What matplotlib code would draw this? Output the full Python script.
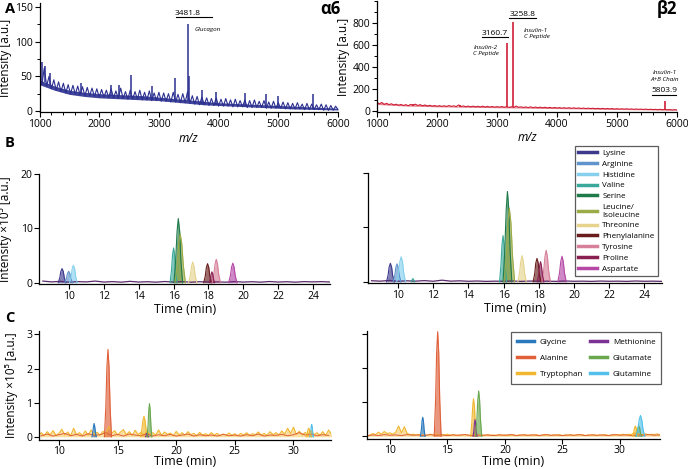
import numpy as np
import matplotlib
matplotlib.use('Agg')
import matplotlib.pyplot as plt
from matplotlib.ticker import MultipleLocator
from matplotlib.lines import Line2D

plt.rcParams['font.family'] = ['Open Sans', 'DejaVu Sans']

# ---------------- Panel A: MALDI spectra ----------------
mz_a6 = np.arange(1000, 6001, 40)
int_a6 = [55, 38, 62, 36, 50, 32, 45, 30, 42, 28,
          40, 26, 38, 25, 37, 24, 36, 23, 35, 22,
          34, 22, 33, 21, 32, 20, 31, 20, 30, 19,
          32, 19, 29, 18, 33, 18, 28, 17, 30, 17,
          28, 17, 30, 16, 27, 16, 29, 15, 26, 15,
          27, 14, 26, 14, 25, 13, 27, 13, 24, 12,
          25, 12, 28, 11, 22, 10, 21, 9, 20, 9,
          19, 8, 18, 8, 19, 7, 17, 7, 18, 7,
          16, 6, 17, 6, 15, 6, 16, 5, 15, 5,
          16, 5, 14, 5, 15, 4, 13, 4, 14, 4,
          12, 4, 13, 3, 12, 3, 11, 3, 12, 3,
          10, 2, 11, 2, 10, 2, 9, 2, 10, 1,
          9, 1, 8, 1, 7, 2]
band_mz = np.arange(1000, 6001, 250)
band_lo_a6 = [38, 30, 24, 21, 19, 18, 17, 16, 15, 13, 11, 9, 8, 7, 6, 5, 4, 3, 2.5, 2, 1.5]
band_hi_a6 = [45, 36, 30, 27, 25, 24, 23, 22, 20, 18, 16, 14, 12, 11, 10, 9, 8, 7, 6, 5, 4]
spike_mz_a6 = [1040, 1100, 1180, 1700, 2200, 2330, 2530, 2880, 3270, 3481.8, 3500,
               3730, 3950, 4450, 4800, 5000, 5580]
spike_int_a6 = [70, 65, 55, 40, 38, 38, 52, 36, 48, 126, 50, 30, 27, 26, 25, 22, 25]
spike_base_a6 = [45, 42, 38, 25, 22, 21, 20, 18, 16, 15, 15, 10, 9, 7, 5, 5, 3]

mz_b2 = np.arange(1000, 6001, 40)
int_b2 = [80, 65, 78, 60, 70, 58, 66, 55, 62, 52,
          60, 50, 58, 48, 60, 52, 62, 50, 58, 47,
          55, 45, 52, 44, 50, 43, 49, 42, 48, 41,
          50, 42, 47, 40, 55, 41, 46, 39, 45, 38,
          44, 38, 43, 37, 44, 36, 42, 36, 41, 35,
          40, 35, 41, 34, 40, 33, 39, 33, 45, 34,
          38, 32, 37, 31, 38, 30, 36, 30, 35, 29,
          34, 28, 33, 27, 32, 27, 31, 26, 30, 25,
          30, 24, 29, 24, 28, 23, 27, 22, 26, 22,
          25, 21, 24, 20, 24, 19, 23, 19, 22, 18,
          21, 17, 20, 17, 20, 16, 19, 15, 18, 15,
          17, 14, 17, 13, 16, 13, 15, 12, 15, 12,
          14, 11, 13, 10, 12, 10]
band_lo_b2 = [60, 52, 45, 42, 38, 36, 34, 32, 30, 28, 26, 24, 22, 20, 18, 16, 14, 12, 11, 9, 7]
band_hi_b2 = [78, 64, 57, 58, 50, 46, 44, 42, 40, 40, 36, 34, 32, 30, 27, 25, 22, 20, 18, 16, 12]
spike_mz_b2 = [1600, 2380, 3160.7, 3258.8, 5803.9]
spike_int_b2 = [62, 55, 625, 815, 92]
spike_base_b2 = [48, 38, 32, 32, 10]

# ---------------- Panel B: amino acids (group 1) ----------------
b_names = ['Lysine', 'Arginine', 'Histidine', 'Valine', 'Serine', 'Leucine/\nIsoleucine',
           'Threonine', 'Phenylalanine', 'Tyrosine', 'Proline', 'Aspartate']
b_colors = ['#3d3a8c', '#5e93cc', '#86d0ee', '#3aa89a', '#1f7a4a', '#9aab48',
            '#e6d48e', '#6a1c1c', '#d7809a', '#8a1f52', '#b548a6']

b_a6_t = [[9.38, 9.47, 9.53, 9.60, 9.67, 9.73, 9.82],
          [9.76, 9.85, 9.91, 9.98, 10.05, 10.11, 10.20],
          [10.03, 10.12, 10.18, 10.25, 10.32, 10.38, 10.47],
          [15.80, 15.88, 15.94, 16.00, 16.06, 16.12, 16.20],
          [16.02, 16.12, 16.20, 16.27, 16.35, 16.42, 16.52],
          [16.08, 16.20, 16.29, 16.38, 16.47, 16.56, 16.68],
          [16.86, 16.96, 17.03, 17.10, 17.17, 17.24, 17.34],
          [17.73, 17.82, 17.88, 17.95, 18.02, 18.08, 18.17],
          [18.21, 18.31, 18.38, 18.45, 18.52, 18.59, 18.69],
          [18.05, 18.11, 18.16, 18.20, 18.25, 18.29, 18.35],
          [19.16, 19.26, 19.33, 19.40, 19.47, 19.54, 19.64]]
b_a6_y = [[0, 0.91, 2.08, 2.6, 2.08, 0.91, 0],
          [0, 0.74, 1.68, 2.1, 1.68, 0.74, 0],
          [0, 1.12, 2.56, 3.2, 2.56, 1.12, 0],
          [0, 2.24, 5.12, 6.4, 5.12, 2.24, 0],
          [0, 4.13, 9.44, 11.8, 9.44, 4.13, 0],
          [0, 3.15, 7.2, 9.0, 7.2, 3.15, 0],
          [0, 1.33, 3.04, 3.8, 3.04, 1.33, 0],
          [0, 1.23, 2.8, 3.5, 2.8, 1.23, 0],
          [0, 1.5, 3.44, 4.3, 3.44, 1.5, 0],
          [0, 0.7, 1.6, 2.0, 1.6, 0.7, 0],
          [0, 1.26, 2.88, 3.6, 2.88, 1.26, 0]]

b_b2_t = [[9.35, 9.44, 9.50, 9.57, 9.64, 9.70, 9.79],
          [9.73, 9.82, 9.88, 9.95, 10.02, 10.08, 10.17],
          [9.93, 10.03, 10.11, 10.18, 10.26, 10.33, 10.43],
          [15.77, 15.85, 15.91, 15.97, 16.03, 16.09, 16.17],
          [15.97, 16.07, 16.15, 16.22, 16.30, 16.37, 16.47],
          [16.03, 16.15, 16.24, 16.33, 16.42, 16.51, 16.63],
          [16.81, 16.91, 16.98, 17.05, 17.12, 17.19, 17.29],
          [17.68, 17.77, 17.83, 17.90, 17.97, 18.03, 18.12],
          [18.18, 18.28, 18.35, 18.42, 18.49, 18.56, 18.66],
          [17.92, 17.99, 18.05, 18.10, 18.15, 18.21, 18.28],
          [19.08, 19.18, 19.25, 19.32, 19.39, 19.46, 19.56]]
b_b2_y = [[0, 1.19, 2.72, 3.4, 2.72, 1.19, 0],
          [0, 1.16, 2.64, 3.3, 2.64, 1.16, 0],
          [0, 1.61, 3.68, 4.6, 3.68, 1.61, 0],
          [0, 2.98, 6.8, 8.5, 6.8, 2.98, 0],
          [0, 5.81, 13.28, 16.6, 13.28, 5.81, 0],
          [0, 4.73, 10.8, 13.5, 10.8, 4.73, 0],
          [0, 1.68, 3.84, 4.8, 3.84, 1.68, 0],
          [0, 1.5, 3.44, 4.3, 3.44, 1.5, 0],
          [0, 2.03, 4.64, 5.8, 4.64, 2.03, 0],
          [0, 1.3, 2.96, 3.7, 2.96, 1.3, 0],
          [0, 1.65, 3.76, 4.7, 3.76, 1.65, 0]]
b_b2_small_t = [10.75, 10.81, 10.85, 10.89, 10.95]
b_b2_small_y = [0, 0.4, 0.6, 0.4, 0]

b_base_t = np.arange(8.5, 25.01, 0.5)
b_base_a6 = [0.30, 0.15, 0.25, 0.10, 0.20, 0.15, 0.30, 0.12, 0.20, 0.10, 0.25, 0.12,
             0.18, 0.10, 0.22, 0.12, 0.20, 0.10, 0.18, 0.12, 0.15, 0.10, 0.20, 0.12,
             0.18, 0.10, 0.22, 0.12, 0.18, 0.10, 0.20, 0.15, 0.20, 0.12]
b_base_b2 = [0.20, 0.12, 0.25, 0.10, 0.18, 0.12, 0.22, 0.10, 0.30, 0.12, 0.18, 0.10,
             0.15, 0.08, 0.12, 0.10, 0.15, 0.08, 0.14, 0.10, 0.12, 0.08, 0.15, 0.10,
             0.12, 0.08, 0.14, 0.10, 0.12, 0.08, 0.15, 0.10, 0.12, 0.08]

# ---------------- Panel C: amino acids (group 2) ----------------
c_names = ['Glycine', 'Alanine', 'Tryptophan', 'Methionine', 'Glutamate', 'Glutamine']
c_colors = ['#2a78bd', '#e0603a', '#f0b72f', '#7b3294', '#6aa84f', '#52c0ea']

c_a6_t = [[12.82, 12.89, 12.95, 13.00, 13.05, 13.11, 13.18],
          [13.88, 14.00, 14.09, 14.18, 14.27, 14.36, 14.48],
          [16.95, 17.07, 17.16, 17.25, 17.34, 17.43, 17.55],
          [17.38, 17.43, 17.46, 17.50, 17.54, 17.57, 17.62],
          [17.52, 17.60, 17.66, 17.72, 17.78, 17.84, 17.92],
          [31.40, 31.46, 31.51, 31.55, 31.60, 31.64, 31.70]]
c_a6_y = [[0, 0.14, 0.31, 0.39, 0.31, 0.14, 0],
          [0, 0.90, 2.05, 2.56, 2.05, 0.90, 0],
          [0, 0.21, 0.48, 0.60, 0.48, 0.21, 0],
          [0, 0.035, 0.08, 0.10, 0.08, 0.035, 0],
          [0, 0.34, 0.78, 0.97, 0.78, 0.34, 0],
          [0, 0.13, 0.29, 0.36, 0.29, 0.13, 0]]
c_a6_trp2_t = [31.08, 31.17, 31.23, 31.30, 31.37, 31.43, 31.52]
c_a6_trp2_y = [0, 0.09, 0.20, 0.25, 0.20, 0.09, 0]

c_b2_t = [[12.65, 12.73, 12.79, 12.85, 12.91, 12.97, 13.05],
          [13.85, 13.97, 14.06, 14.15, 14.24, 14.33, 14.45],
          [17.02, 17.12, 17.20, 17.27, 17.35, 17.42, 17.52],
          [17.23, 17.30, 17.35, 17.40, 17.45, 17.50, 17.57],
          [17.45, 17.56, 17.64, 17.72, 17.80, 17.88, 17.99],
          [31.43, 31.58, 31.69, 31.80, 31.91, 32.02, 32.17]]
c_b2_y = [[0, 0.20, 0.45, 0.56, 0.45, 0.20, 0],
          [0, 1.07, 2.46, 3.07, 2.46, 1.07, 0],
          [0, 0.39, 0.88, 1.10, 0.88, 0.39, 0],
          [0, 0.17, 0.39, 0.49, 0.39, 0.17, 0],
          [0, 0.47, 1.06, 1.33, 1.06, 0.47, 0],
          [0, 0.21, 0.49, 0.61, 0.49, 0.21, 0]]
c_b2_trp2_t = [31.10, 31.20, 31.28, 31.35, 31.43, 31.50, 31.60]
c_b2_trp2_y = [0, 0.10, 0.24, 0.30, 0.24, 0.10, 0]
c_b2_glu2_t = [31.40, 31.50, 31.58, 31.65, 31.73, 31.80, 31.90]
c_b2_glu2_y = [0, 0.10, 0.24, 0.30, 0.24, 0.10, 0]

c_noise_a6_t = np.arange(8.25, 33.26, 0.25)
c_noise_a6_trp = [0.05, 0.12, 0.03, 0.15, 0.06, 0.18, 0.04, 0.10, 0.22, 0.05,
                  0.14, 0.03, 0.25, 0.06, 0.12, 0.04, 0.17, 0.05, 0.20, 0.07,
                  0.13, 0.05, 0.16, 0.08, 0.30, 0.10, 0.18, 0.05, 0.14, 0.21,
                  0.06, 0.15, 0.04, 0.19, 0.07, 0.13, 0.05, 0.17, 0.06, 0.12,
                  0.05, 0.20, 0.04, 0.14, 0.07, 0.11, 0.03, 0.16, 0.05, 0.12,
                  0.04, 0.15, 0.06, 0.10, 0.03, 0.13, 0.05, 0.09, 0.04, 0.12,
                  0.05, 0.10, 0.03, 0.08, 0.05, 0.11, 0.04, 0.09, 0.03, 0.10,
                  0.05, 0.12, 0.04, 0.09, 0.06, 0.14, 0.05, 0.10, 0.04, 0.15,
                  0.06, 0.12, 0.05, 0.17, 0.08, 0.25, 0.10, 0.28, 0.07, 0.16,
                  0.05, 0.13, 0.04, 0.18, 0.06, 0.12, 0.05, 0.15, 0.04, 0.20,
                  0.06]
c_noise_a6_ala_t = np.arange(8.5, 33.01, 0.5)
c_noise_a6_ala = [0.03, 0.08, 0.02, 0.06, 0.10, 0.03, 0.07, 0.02, 0.09, 0.04,
                  0.06, 0.12, 0.03, 0.07, 0.02, 0.08, 0.05, 0.03, 0.09, 0.02,
                  0.06, 0.03, 0.07, 0.02, 0.05, 0.08, 0.02, 0.06, 0.03, 0.05,
                  0.02, 0.07, 0.03, 0.05, 0.02, 0.06, 0.03, 0.08, 0.02, 0.05,
                  0.04, 0.07, 0.03, 0.06, 0.12, 0.05, 0.08, 0.03, 0.06, 0.04]

c_noise_b2_t = np.arange(8.0, 33.51, 0.25)
c_noise_b2_trp = [0.00, 0.04, 0.08, 0.05, 0.12, 0.06, 0.14, 0.08, 0.10, 0.06,
                  0.12, 0.30, 0.10, 0.28, 0.08, 0.05, 0.06, 0.04, 0.05, 0.03,
                  0.05, 0.03, 0.06, 0.04, 0.07, 0.03, 0.05, 0.04, 0.06, 0.03,
                  0.05, 0.02, 0.04, 0.03, 0.05, 0.04, 0.03, 0.05, 0.04, 0.03,
                  0.04, 0.02, 0.05, 0.03, 0.04, 0.02, 0.05, 0.03, 0.04, 0.02,
                  0.03, 0.05, 0.02, 0.04, 0.03, 0.05, 0.02, 0.04, 0.03, 0.05,
                  0.02, 0.04, 0.03, 0.05, 0.02, 0.04, 0.03, 0.05, 0.02, 0.04,
                  0.03, 0.05, 0.02, 0.04, 0.03, 0.05, 0.02, 0.04, 0.03, 0.05,
                  0.02, 0.04, 0.03, 0.05, 0.02, 0.04, 0.03, 0.05, 0.04, 0.06,
                  0.04, 0.06, 0.05, 0.10, 0.08, 0.06, 0.05, 0.07, 0.04, 0.06,
                  0.05, 0.07, 0.04]
c_noise_b2_ala_t = np.arange(8.0, 33.51, 0.5)
c_noise_b2_ala = [0.01, 0.04, 0.02, 0.05, 0.03, 0.04, 0.02, 0.05, 0.03, 0.04,
                  0.02, 0.05, 0.03, 0.04, 0.02, 0.04, 0.03, 0.05, 0.02, 0.04,
                  0.03, 0.04, 0.02, 0.04, 0.03, 0.05, 0.02, 0.04, 0.03, 0.04,
                  0.02, 0.05, 0.03, 0.04, 0.02, 0.04, 0.03, 0.05, 0.02, 0.04,
                  0.03, 0.04, 0.02, 0.05, 0.03, 0.04, 0.02, 0.04, 0.03, 0.05,
                  0.03, 0.04]

# ---------------- Figure ----------------
W, H = 688, 469
fig = plt.figure(figsize=(W / 100, H / 100), dpi=100)


def add_ax(x0, x1, ytop, ybot):
    return fig.add_axes([x0 / W, 1 - ybot / H, (x1 - x0) / W, (ybot - ytop) / H])


def style(ax, labelsize=7.5):
    for s in ('top', 'right'):
        ax.spines[s].set_visible(False)
    for s in ('left', 'bottom'):
        ax.spines[s].set_linewidth(0.9)
    ax.tick_params(axis='both', which='major', direction='out', length=3.5, width=0.8,
                   labelsize=labelsize, pad=1.5)
    ax.tick_params(axis='both', which='minor', direction='out', length=2.2, width=0.7)


a6_col = '#2b2f8f'
b2_col = '#cf1f36'

# A left
axA1 = add_ax(39.5, 338, 3.5, 112.4)
axA1.fill_between(band_mz, band_lo_a6, band_hi_a6, color=a6_col, alpha=0.9, lw=0)
axA1.plot(mz_a6, int_a6, color=a6_col, lw=0.8)
axA1.vlines(spike_mz_a6, spike_base_a6, spike_int_a6, color=a6_col, lw=1.1)
axA1.set_xlim(1000, 6000)
axA1.set_ylim(-2, 155)
axA1.set_yticks([0, 50, 100, 150])
axA1.set_xticks([1000, 2000, 3000, 4000, 5000, 6000])
axA1.xaxis.set_minor_locator(MultipleLocator(200))
axA1.yaxis.set_minor_locator(MultipleLocator(25))
style(axA1)
axA1.set_ylabel('Intensity [a.u.]', fontsize=8.5, labelpad=2)
axA1.set_xlabel('m/z', fontsize=8.5, style='italic', labelpad=1)
axA1.text(3490, 141, '3481.8', fontsize=6, ha='center', va='center')
axA1.plot([3281, 3884], [136, 136], color='black', lw=0.8)
axA1.text(3600, 118, 'Glucagon', fontsize=4.5, style='italic', ha='left', va='center')

# A right
axA2 = add_ax(377, 677, 1.4, 112.1)
axA2.fill_between(band_mz, band_lo_b2, band_hi_b2, color=b2_col, alpha=0.55, lw=0)
axA2.plot(mz_b2, int_b2, color=b2_col, lw=0.8)
axA2.vlines(spike_mz_b2, spike_base_b2, spike_int_b2, color=b2_col, lw=1.2)
axA2.set_xlim(1000, 6000)
axA2.set_ylim(-10, 1000)
axA2.set_yticks([0, 200, 400, 600, 800])
axA2.set_xticks([1000, 2000, 3000, 4000, 5000, 6000])
axA2.xaxis.set_minor_locator(MultipleLocator(200))
axA2.yaxis.set_minor_locator(MultipleLocator(100))
style(axA2)
axA2.set_ylabel('Intensity [a.u.]', fontsize=8.5, labelpad=2)
axA2.set_xlabel('m/z', fontsize=8.5, style='italic', labelpad=1)
axA2.text(2958, 709, '3160.7', fontsize=6, ha='center', va='center')
axA2.plot([2755, 3183], [672, 672], color='black', lw=0.8)
axA2.text(2820, 549, 'Insulin-2\nC Peptide', fontsize=4.5, style='italic', ha='center',
          va='center', linespacing=1.3)
axA2.text(3433, 882, '3258.8', fontsize=6, ha='center', va='center')
axA2.plot([3200, 3645], [846, 846], color='black', lw=0.8)
axA2.text(3450, 705, 'Insulin-1\nC Peptide', fontsize=4.5, style='italic', ha='left',
          va='center', linespacing=1.3)
axA2.text(5800, 320, 'Insulin-1\nA+B Chain', fontsize=4.5, style='italic', ha='center',
          va='center', linespacing=1.3)
axA2.text(5790, 191, '5803.9', fontsize=6, ha='center', va='center')
axA2.plot([5583, 5995], [146, 146], color='black', lw=0.8)

fig.text(330 / W, 1 - 9 / H, 'α6', fontsize=12, fontweight='bold', ha='center', va='center')
fig.text(667 / W, 1 - 9 / H, 'β2', fontsize=12, fontweight='bold', ha='center', va='center')


def draw_peaks(ax, ts, ys, colors, alpha=0.65):
    for t, y, c in zip(ts, ys, colors):
        ax.fill_between(t, 0, y, color=c, alpha=alpha, lw=0)
        ax.plot(t, y, color=c, lw=0.8)


# B left
axB1 = add_ax(39.4, 330.4, 174, 283.8)
axB1.plot(b_base_t, b_base_a6, color='#5a2a6a', lw=0.9)
draw_peaks(axB1, b_a6_t, b_a6_y, b_colors)
axB1.set_xlim(8.3, 25)
axB1.set_ylim(-0.2, 20)
axB1.set_yticks([0, 10, 20])
axB1.set_xticks([10, 12, 14, 16, 18, 20, 22, 24])
style(axB1)
axB1.set_ylabel('Intensity ×10⁵ [a.u.]', fontsize=8.5, labelpad=6)
axB1.set_xlabel('Time (min)', fontsize=9, labelpad=1)

# B right
axB2 = add_ax(368, 662, 173, 282.9)
axB2.plot(b_base_t, b_base_b2, color='#5a2a6a', lw=0.9)
draw_peaks(axB2, [b_b2_small_t], [b_b2_small_y], [b_colors[3]])
draw_peaks(axB2, b_b2_t, b_b2_y, b_colors)
axB2.set_xlim(8.3, 25)
axB2.set_ylim(-0.2, 20)
axB2.set_yticks([0, 10, 20])
axB2.set_yticklabels([])
axB2.set_xticks([10, 12, 14, 16, 18, 20, 22, 24])
style(axB2)
axB2.set_xlabel('Time (min)', fontsize=9, labelpad=1)

b_handles = [Line2D([], [], color=c, lw=2.5) for c in b_colors]
legB = fig.legend(b_handles, b_names, loc='upper left',
                  bbox_to_anchor=(575 / W, 1 - 146 / H), fontsize=5.8, frameon=True,
                  fancybox=False, edgecolor='#333333', handlelength=2.3, handletextpad=0.7,
                  labelspacing=0.4, borderpad=0.4, borderaxespad=0)
legB.get_frame().set_linewidth(0.9)

# C left
axC1 = add_ax(39, 331, 331, 439.5)
axC1.fill_between(c_noise_a6_t, 0, c_noise_a6_trp, color=c_colors[2], alpha=0.45, lw=0)
axC1.plot(c_noise_a6_t, c_noise_a6_trp, color=c_colors[2], lw=0.8)
axC1.plot(c_noise_a6_ala_t, c_noise_a6_ala, color=c_colors[1], lw=0.7)
draw_peaks(axC1, c_a6_t, c_a6_y, c_colors)
draw_peaks(axC1, [c_a6_trp2_t], [c_a6_trp2_y], [c_colors[2]])
axC1.set_xlim(8.3, 33.2)
axC1.set_ylim(-0.08, 3.1)
axC1.set_yticks([0, 1, 2, 3])
axC1.set_xticks([10, 15, 20, 25, 30])
style(axC1)
axC1.tick_params(axis='x', pad=1)
axC1.set_ylabel('Intensity ×10⁵ [a.u.]', fontsize=8.5, labelpad=6)
axC1.set_xlabel('Time (min)', fontsize=9, labelpad=-1)

# C right
axC2 = add_ax(367, 660, 330.7, 439)
axC2.fill_between(c_noise_b2_t, 0, c_noise_b2_trp, color=c_colors[2], alpha=0.45, lw=0)
axC2.plot(c_noise_b2_t, c_noise_b2_trp, color=c_colors[2], lw=0.8)
axC2.plot(c_noise_b2_ala_t, c_noise_b2_ala, color=c_colors[1], lw=0.7)
draw_peaks(axC2, [c_b2_trp2_t, c_b2_glu2_t], [c_b2_trp2_y, c_b2_glu2_y],
           [c_colors[2], c_colors[4]])
draw_peaks(axC2, c_b2_t, c_b2_y, c_colors)
axC2.set_xlim(8.0, 33.5)
axC2.set_ylim(-0.08, 3.1)
axC2.set_yticks([0, 1, 2, 3])
axC2.set_yticklabels([])
axC2.set_xticks([10, 15, 20, 25, 30])
style(axC2)
axC2.tick_params(axis='x', pad=1)
axC2.set_xlabel('Time (min)', fontsize=9, labelpad=-1)

c_handles = [Line2D([], [], color=c, lw=2.5) for c in c_colors]
legC = fig.legend(c_handles, c_names, ncol=2, loc='upper left',
                  bbox_to_anchor=(511 / W, 1 - 332 / H), fontsize=5.8, frameon=True,
                  fancybox=False, edgecolor='#333333', handlelength=2.1, handletextpad=0.7,
                  labelspacing=1.05, borderpad=0.75, borderaxespad=0, columnspacing=0.9)
legC.get_frame().set_linewidth(0.9)

# panel letters
fig.text(5 / W, 1 - 9 / H, 'A', fontsize=10.5, fontweight='bold', va='center')
fig.text(5 / W, 1 - 143 / H, 'B', fontsize=10.5, fontweight='bold', va='center')
fig.text(5 / W, 1 - 318 / H, 'C', fontsize=10.5, fontweight='bold', va='center')

fig.savefig('out.png', dpi=100)
